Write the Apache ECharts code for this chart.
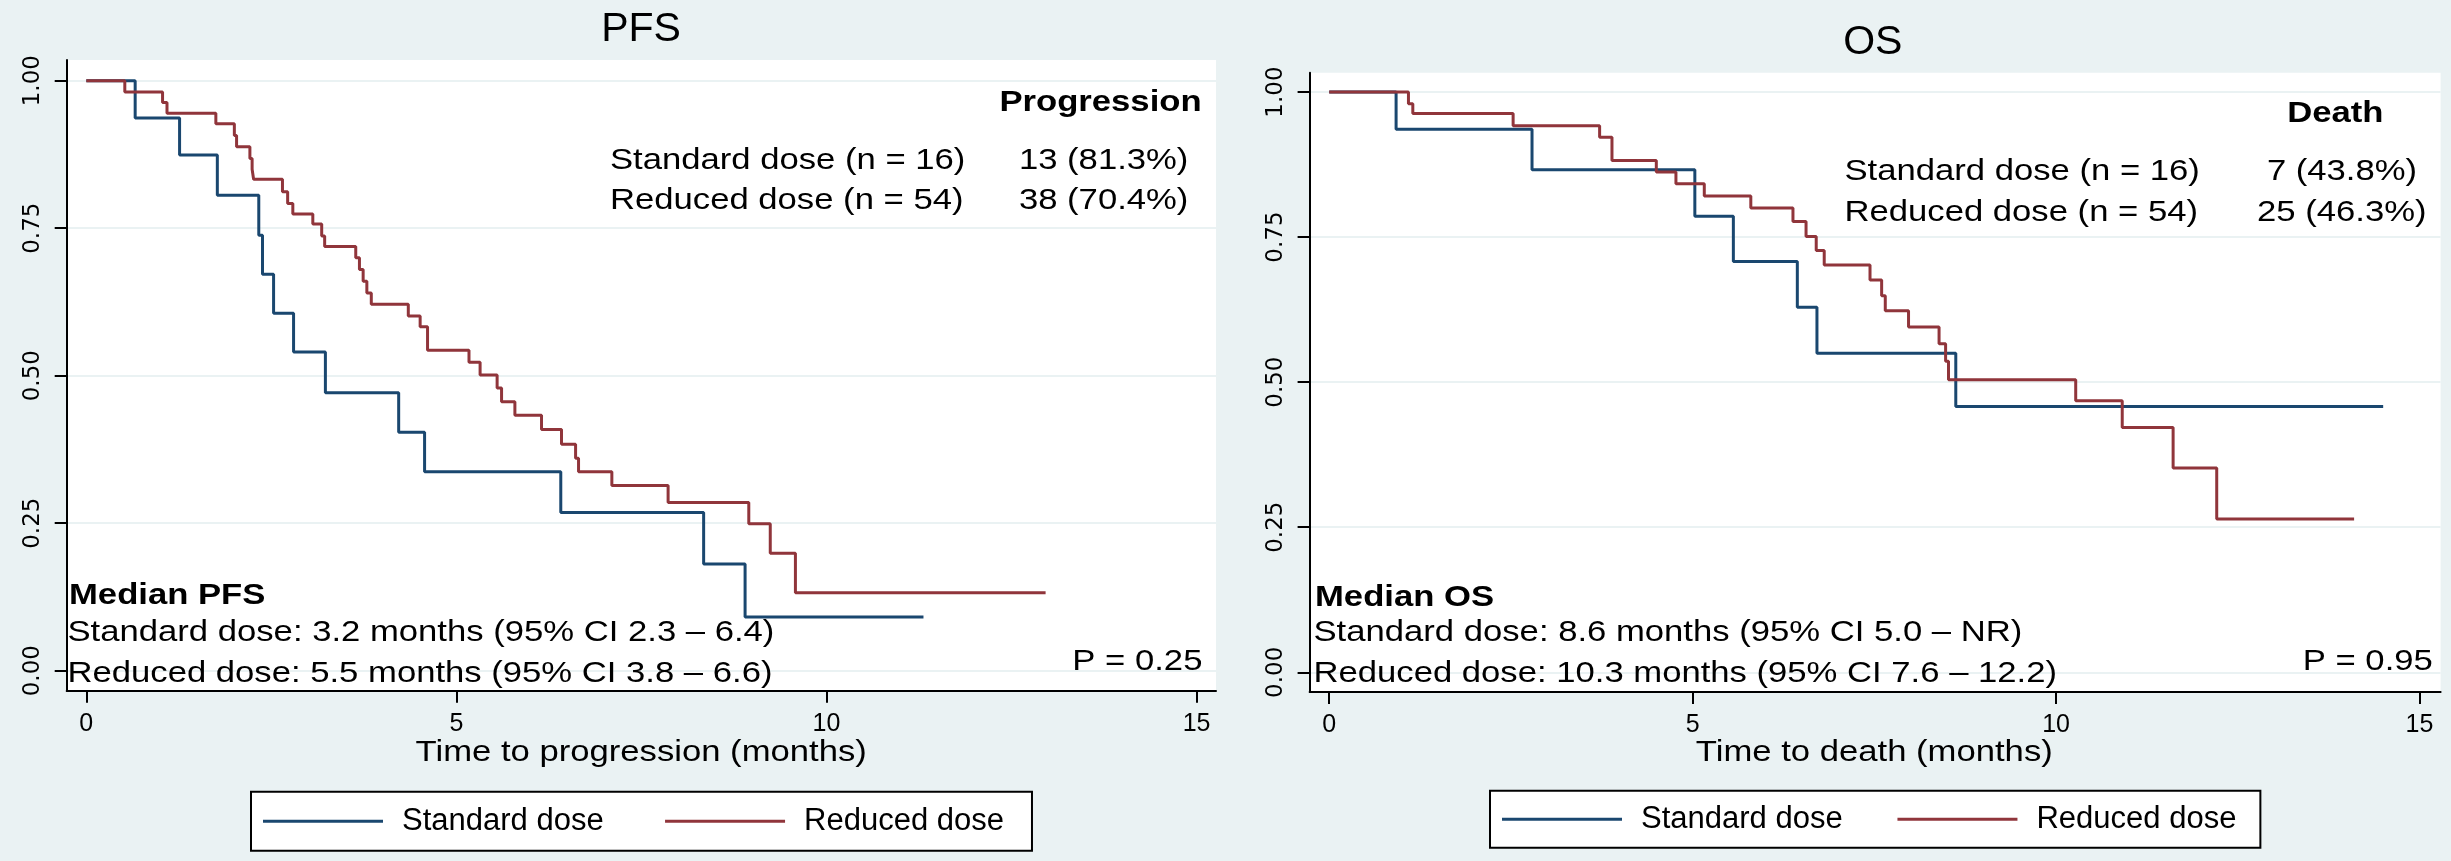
<!DOCTYPE html>
<html>
<head>
<meta charset="utf-8">
<script src="https://cdn.jsdelivr.net/npm/echarts@6/dist/echarts.min.js"></script>
<style>
html,body{margin:0;padding:0;background:#eaf2f3;}
#chart{width:2451px;height:861px;}
</style>
</head>
<body>
<div id="chart"></div>
<script>
// ---------------- data ----------------
const seriesNames = ['Standard dose', 'Reduced dose'];

const pfsStdTime = [0, 0.66, 1.26, 1.77, 2.33, 2.38, 2.53, 2.80, 3.23, 4.22, 4.57, 6.41, 8.34, 8.90, 11.31];
const pfsStdSurv = [1.000, 0.937, 0.874, 0.806, 0.738, 0.672, 0.606, 0.540, 0.471, 0.404, 0.337, 0.268, 0.181, 0.091, 0.091];

const pfsRedTime = [0, 0.52, 1.03, 1.09, 1.75, 2.00, 2.03, 2.21, 2.24, 2.26, 2.65, 2.72, 2.79, 3.06, 3.18, 3.22, 3.64, 3.69, 3.74, 3.79, 3.85, 4.35, 4.51, 4.61, 5.17, 5.32, 5.55, 5.61, 5.79, 6.15, 6.42, 6.61, 6.65, 7.10, 7.86, 8.95, 9.24, 9.58, 12.96];
const pfsRedSurv = [1.000, 0.981, 0.963, 0.945, 0.927, 0.907, 0.888, 0.868, 0.850, 0.833, 0.812, 0.792, 0.774, 0.757, 0.737, 0.719, 0.700, 0.680, 0.660, 0.640, 0.621, 0.601, 0.583, 0.543, 0.523, 0.501, 0.479, 0.456, 0.433, 0.409, 0.384, 0.360, 0.337, 0.314, 0.285, 0.249, 0.199, 0.132, 0.132];

const osStdTime = [0, 0.92, 2.79, 5.03, 5.56, 6.44, 6.71, 8.62, 14.50];
const osStdSurv = [1.000, 0.936, 0.866, 0.786, 0.708, 0.629, 0.550, 0.458, 0.458];

const osRedTime = [0, 1.09, 1.15, 2.53, 3.72, 3.89, 4.50, 4.77, 5.16, 5.80, 6.38, 6.56, 6.70, 6.81, 7.44, 7.60, 7.65, 7.97, 8.39, 8.48, 8.52, 10.27, 10.91, 11.61, 12.21, 14.10];
const osRedSurv = [1.000, 0.980, 0.963, 0.942, 0.922, 0.882, 0.862, 0.842, 0.821, 0.800, 0.777, 0.751, 0.727, 0.702, 0.676, 0.649, 0.623, 0.595, 0.566, 0.536, 0.504, 0.468, 0.422, 0.352, 0.264, 0.264];

const xTicks = [0, 5, 10, 15];
const yTicks = [0, 0.25, 0.5, 0.75, 1];

const panelTitles = ['PFS', 'OS'];
const xTitles = ['Time to progression (months)', 'Time to death (months)'];
const eventHeads = ['Progression', 'Death'];
const groupLabels = ['Standard dose (n = 16)', 'Reduced dose (n = 54)'];
const pfsCounts = ['13 (81.3%)', '38 (70.4%)'];
const osCounts = ['7 (43.8%)', '25 (46.3%)'];
const medianHeads = ['Median PFS', 'Median OS'];
const pfsMedians = ['Standard dose: 3.2 months (95% CI 2.3 \u2013 6.4)', 'Reduced dose: 5.5 months (95% CI 3.8 \u2013 6.6)'];
const osMedians = ['Standard dose: 8.6 months (95% CI 5.0 \u2013 NR)', 'Reduced dose: 10.3 months (95% CI 7.6 \u2013 12.2)'];
const pValues = ['P = 0.25', 'P = 0.95'];

// ---------------- style ----------------
const FONT = '"Liberation Sans", Arial, sans-serif';
const BLUE = '#1a476f';
const RED = '#90353b';
const BG = '#eaf2f3';
const SX = 1.155;

function zip(t, s) { return t.map((v, i) => [v, s[i]]); }

function xAxisCfg(gi, min, max) {
  return {
    type: 'value', gridIndex: gi, min: min, max: max,
    axisLine: { show: true, onZero: false, lineStyle: { color: '#000', width: 2 } },
    axisTick: { show: true, customValues: xTicks, length: 12, lineStyle: { color: '#000', width: 2 } },
    axisLabel: { show: true, customValues: xTicks, margin: 21, fontSize: 25, fontFamily: FONT, color: '#000' },
    splitLine: { show: false }
  };
}
function yAxisCfg(gi, min, max) {
  return {
    type: 'value', gridIndex: gi, min: min, max: max,
    axisLine: { show: true, onZero: false, lineStyle: { color: '#000', width: 2 } },
    axisTick: { show: true, customValues: yTicks, length: 12, lineStyle: { color: '#000', width: 2 } },
    axisLabel: { show: true, customValues: yTicks, rotate: 90, margin: 22, fontSize: 23,
      fontFamily: '"DejaVu Sans", sans-serif', color: '#000',
      formatter: v => Number(v).toFixed(2) },
    splitLine: { show: true, lineStyle: { color: BG, width: 2 } }
  };
}
function km(name, gi, t, s, color) {
  return {
    name: name, type: 'line', step: 'end', xAxisIndex: gi, yAxisIndex: gi,
    data: zip(t, s), showSymbol: false, symbol: 'none', color: color,
    itemStyle: { color: color }, lineStyle: { color: color, width: 3 },
    emphasis: { disabled: true }, silent: true, z: 3
  };
}
function txt(x, y, text, o) {
  o = o || {};
  return {
    type: 'text', x: x, y: y, scaleX: (o.sx === undefined ? SX : o.sx), z: 100, silent: true,
    style: { text: text, fontFamily: FONT, fontSize: o.size || 30, fontWeight: o.bold ? 'bold' : 'normal',
      fill: '#000', align: o.align || 'left', verticalAlign: 'middle' }
  };
}
function legendCfg(left, top, gap, pad) {
  return {
    left: left, top: top, orient: 'horizontal', data: seriesNames, icon: 'rect',
    itemWidth: 120, itemHeight: 3, itemGap: gap, padding: pad,
    backgroundColor: '#fff', borderColor: '#000', borderWidth: 2, borderRadius: 0,
    selectedMode: false,
    textStyle: { fontSize: 31, fontFamily: FONT, color: '#000', lineHeight: 31, padding: [0, 0, 0, 14] }
  };
}

const chart = echarts.init(document.getElementById('chart'), null, { renderer: 'canvas', width: 2451, height: 861 });

const option = {
  backgroundColor: BG,
  animation: false,
  grid: [
    { left: 66.7, top: 60, width: 1149.3, height: 630.7, show: true, backgroundColor: '#fff', borderWidth: 0, containLabel: false, outerBoundsMode: 'none' },
    { left: 1309.6, top: 72.7, width: 1131, height: 619.3, show: true, backgroundColor: '#fff', borderWidth: 0, containLabel: false, outerBoundsMode: 'none' }
  ],
  xAxis: [ xAxisCfg(0, -0.265, 15.262), xAxisCfg(1, -0.27, 15.29) ],
  yAxis: [ yAxisCfg(0, -0.0339, 1.0351), yAxisCfg(1, -0.034, 1.0333) ],
  legend: [
    legendCfg(251, 791.7, 61.4, [14, 28, 14, 12]),
    legendCfg(1490, 790.7, 54.8, [13, 24, 13, 12])
  ],
  series: [
    km(seriesNames[0], 0, pfsStdTime, pfsStdSurv, BLUE),
    km(seriesNames[1], 0, pfsRedTime, pfsRedSurv, RED),
    km(seriesNames[0], 1, osStdTime, osStdSurv, BLUE),
    km(seriesNames[1], 1, osRedTime, osRedSurv, RED)
  ],
  graphic: [
    // PFS panel
    txt(641, 30, panelTitles[0], { size: 41, sx: 1, align: 'center' }),
    txt(1201.6, 102.5, eventHeads[0], { bold: true, align: 'right' }),
    txt(610, 161, groupLabels[0]),
    txt(1188.4, 161, pfsCounts[0], { align: 'right' }),
    txt(610, 201, groupLabels[1]),
    txt(1188.4, 201, pfsCounts[1], { align: 'right' }),
    txt(69, 596, medianHeads[0], { bold: true }),
    txt(67.5, 632.5, pfsMedians[0]),
    txt(67.5, 673.8, pfsMedians[1]),
    txt(1202.4, 662, pValues[0], { align: 'right' }),
    txt(641.2, 753, xTitles[0], { align: 'center' }),
    // OS panel
    txt(1872.8, 42.5, panelTitles[1], { size: 41, sx: 1, align: 'center' }),
    txt(2383.4, 114, eventHeads[1], { bold: true, align: 'right' }),
    txt(1844.5, 171.3, groupLabels[0]),
    txt(2417.1, 171.3, osCounts[0], { align: 'right' }),
    txt(1844.5, 212.5, groupLabels[1]),
    txt(2426.5, 212.5, osCounts[1], { align: 'right' }),
    txt(1315, 597.5, medianHeads[1], { bold: true }),
    txt(1313.5, 633, osMedians[0]),
    txt(1313.5, 674, osMedians[1]),
    txt(2432.8, 662, pValues[1], { align: 'right' }),
    txt(1874.3, 753, xTitles[1], { align: 'center' })
  ]
};
chart.setOption(option);
</script>
</body>
</html>
